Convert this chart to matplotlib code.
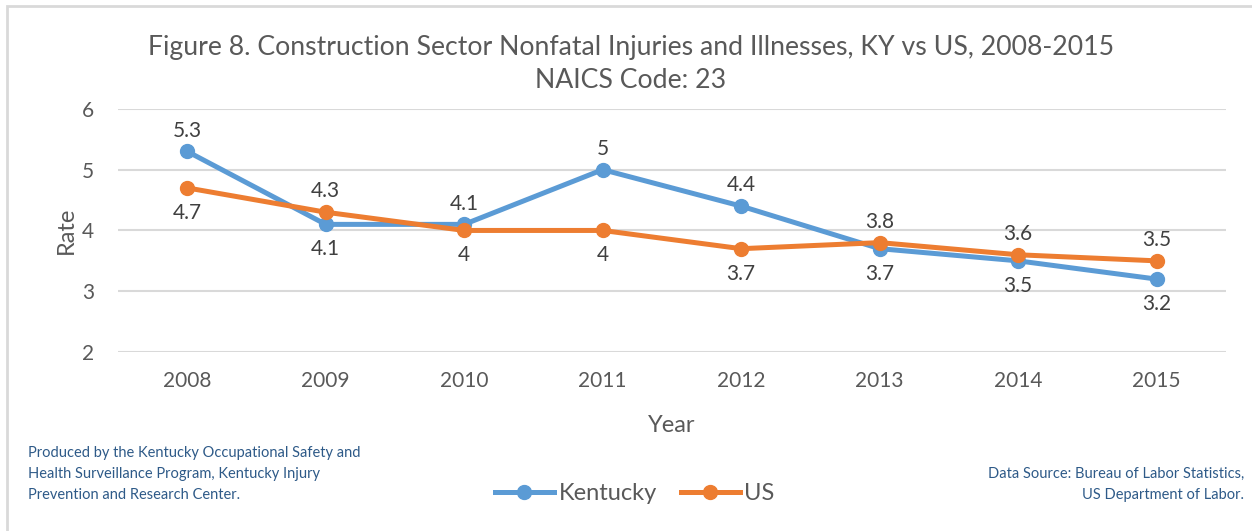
import matplotlib
matplotlib.use('Agg')
import matplotlib.pyplot as plt
from matplotlib.patches import Rectangle

plt.rcParams['font.family'] = ['Lato', 'DejaVu Sans']

years = ['2008', '2009', '2010', '2011', '2012', '2013', '2014', '2015']
kentucky = [5.3, 4.1, 4.1, 5.0, 4.4, 3.7, 3.5, 3.2]
us = [4.7, 4.3, 4.0, 4.0, 3.7, 3.8, 3.6, 3.5]
# label placement: 1 = above, -1 = below
ky_pos = [1, -1, 1, 1, 1, -1, -1, -1]
us_pos = [-1, 1, -1, -1, -1, 1, 1, 1]

blue = '#5B9BD5'
orange = '#ED7D31'
grey = '#595959'
navy = '#2E5A88'

fig = plt.figure(figsize=(12.52, 5.31), dpi=100)
ax = fig.add_axes([0.0942, 0.337, 0.885, 0.458])

x = list(range(len(years)))
ax.plot(x, kentucky, color=blue, lw=3.6, marker='o', ms=10, label='Kentucky', zorder=3)
ax.plot(x, us, color=orange, lw=3.6, marker='o', ms=10, label='US', zorder=4)

def fmt(v):
    return f'{v:g}'

for xi, v, p in zip(x, kentucky, ky_pos):
    ax.annotate(fmt(v), (xi, v), xytext=(0, 15 if p > 0 else -18), textcoords='offset points',
                ha='center', va='center', fontsize=15, color='#404040')
for xi, v, p in zip(x, us, us_pos):
    ax.annotate(fmt(v), (xi, v), xytext=(0, 15 if p > 0 else -18), textcoords='offset points',
                ha='center', va='center', fontsize=15, color='#404040')

ax.set_xlim(-0.5, len(years) - 0.5)
ax.set_ylim(2, 6)
ax.set_yticks([2, 3, 4, 5, 6])
ax.set_xticks(x)
ax.set_xticklabels(years)
ax.tick_params(length=0, labelsize=15, labelcolor=grey, pad=14)
ax.tick_params(axis='y', pad=17)
ax.grid(axis='y', color='#D9D9D9', lw=1.5)
ax.set_axisbelow(True)
for s in ax.spines.values():
    s.set_visible(False)

ax.set_xlabel('Year', fontsize=17, color=grey, labelpad=17)
ax.set_ylabel('Rate', fontsize=17, color=grey, labelpad=4)

fig.text(0.504, 0.911, 'Figure 8. Construction Sector Nonfatal Injuries and Illnesses, KY vs US, 2008-2015',
         ha='center', va='center', fontsize=19.2, color=grey)
fig.text(0.504, 0.849, 'NAICS Code: 23', ha='center', va='center', fontsize=19.2, color=grey)

leg = fig.legend(loc='center', bbox_to_anchor=(0.507, 0.071), ncol=2, frameon=False,
                 fontsize=17, handlelength=2.5, columnspacing=1.0, handletextpad=0.2)
for t in leg.get_texts():
    t.set_color(grey)

fig.text(0.022, 0.107, 'Produced by the Kentucky Occupational Safety and\n'
         'Health Surveillance Program, Kentucky Injury\n'
         'Prevention and Research Center.',
         ha='left', va='center', fontsize=10.5, color=navy, linespacing=1.65)
fig.text(0.994, 0.0885, 'Data Source: Bureau of Labor Statistics,\nUS Department of Labor.',
         ha='right', va='center', fontsize=10.5, color=navy, linespacing=1.65)

fig.add_artist(Rectangle((0.0055, -0.1), 1.2, 1.089, transform=fig.transFigure,
                         fill=False, ec='#D9D9D9', lw=2))

fig.savefig('out.png', dpi=100)
